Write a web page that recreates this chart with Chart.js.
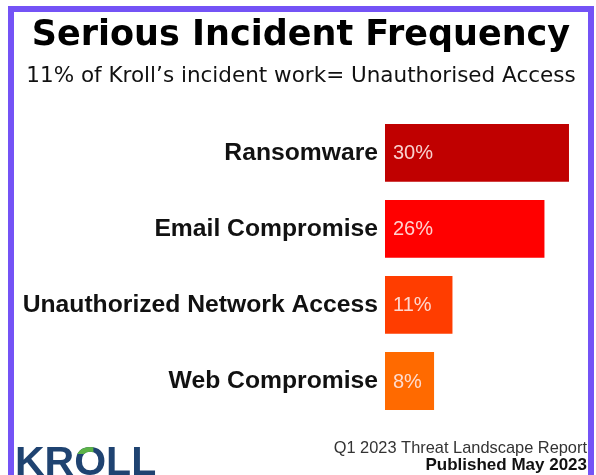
<!DOCTYPE html>
<html>
<head>
<meta charset="utf-8">
<script src="https://cdn.jsdelivr.net/npm/chart.js@4"></script>
<style>
  html, body { margin: 0; padding: 0; background: #fff; overflow: hidden; }
  body { width: 596px; height: 475px; position: relative; }
  #frame {
    position: absolute; left: 8px; top: 6px;
    width: 574px; height: 480px;
    border: 6px solid #7453f6; border-bottom: 0;
    background: #fff;
  }
  canvas { display: block; }
</style>
</head>
<body>
<div id="frame"><canvas id="bars" width="574" height="463"></canvas></div>
<script>
const categories = ["Ransomware", "Email Compromise", "Unauthorized Network Access", "Web Compromise"];
const shares = [30, 26, 11, 8];
const barColors = ["#c00000", "#ff0000", "#ff3d00", "#ff6a00"];

const titleText = "Serious Incident Frequency";
const subtitleText = "11% of Kroll\u2019s incident work= Unauthorised Access";
const reportLine = "Q1 2023 Threat Landscape Report";
const publishedLine = "Published May 2023";

// value text inside each bar, left aligned near the base
const valueLabels = {
  id: "valueLabels",
  afterDatasetsDraw(chart) {
    const { ctx } = chart;
    const meta = chart.getDatasetMeta(0);
    ctx.save();
    ctx.font = "20px 'Liberation Sans', Arial, sans-serif";
    ctx.fillStyle = "rgba(255,232,228,0.9)";
    ctx.textAlign = "left";
    ctx.textBaseline = "middle";
    meta.data.forEach((bar, i) => {
      ctx.fillText(shares[i] + "%", bar.base + 8, bar.y + 1);
    });
    ctx.restore();
  }
};

// logo + report footer
const footer = {
  id: "footer",
  afterDraw(chart) {
    const { ctx, width } = chart;
    ctx.save();
    ctx.textBaseline = "alphabetic";

    ctx.fillStyle = "#333";
    ctx.textAlign = "right";
    ctx.font = "16.4px 'Liberation Sans', Arial, sans-serif";
    ctx.fillText(reportLine, width - 1, 441);
    ctx.fillStyle = "#111";
    ctx.font = "bold 17px 'Liberation Sans', Arial, sans-serif";
    ctx.fillText(publishedLine, width - 1, 458);

    // KROLL wordmark
    ctx.textAlign = "left";
    ctx.font = "bold 41px 'Liberation Sans', Arial, sans-serif";
    const navy = "#1f4371";
    let x = 1;
    const y = 463;
    "KROLL".split("").forEach(ch => {
      const w = ctx.measureText(ch).width;
      ctx.fillStyle = navy;
      ctx.fillText(ch, x, y);
      if (ch === "O") {
        ctx.save();
        ctx.beginPath();
        ctx.rect(x, y - 40, w * 0.6, 19);
        ctx.clip();
        ctx.fillStyle = "#5cb347";
        ctx.fillText(ch, x, y);
        ctx.restore();
      }
      x += w;
    });
    ctx.restore();
  }
};

new Chart(document.getElementById("bars"), {
  type: "bar",
  data: {
    labels: categories,
    datasets: [{
      data: shares,
      backgroundColor: barColors,
      borderWidth: 0,
      categoryPercentage: 1,
      barPercentage: 0.76
    }]
  },
  options: {
    indexAxis: "y",
    responsive: false,
    animation: false,
    layout: { padding: { top: 0, right: 0, bottom: 56, left: 0 } },
    scales: {
      // 30% bar ends ~19px short of the frame
      x: { display: false, min: 0, max: 33.1 },
      y: {
        grid: { display: false, drawTicks: false },
        border: { display: false },
        ticks: {
          padding: 7,
          color: "#111",
          font: { family: "'Liberation Sans', Arial, sans-serif", size: 24.7, weight: "bold" }
        },
        afterFit(scale) { scale.width = 371; }
      }
    },
    plugins: {
      legend: { display: false },
      tooltip: { enabled: false },
      title: {
        display: true,
        text: titleText,
        color: "#000",
        font: { family: "'DejaVu Sans', sans-serif", size: 35, weight: "bold" },
        padding: { top: 3, bottom: 0 }
      },
      subtitle: {
        display: true,
        text: subtitleText,
        color: "#111",
        font: { family: "'DejaVu Sans', sans-serif", size: 21.5, weight: "normal" },
        padding: { top: 6.6, bottom: 25.5 }
      }
    }
  },
  plugins: [valueLabels, footer]
});
</script>
</body>
</html>
